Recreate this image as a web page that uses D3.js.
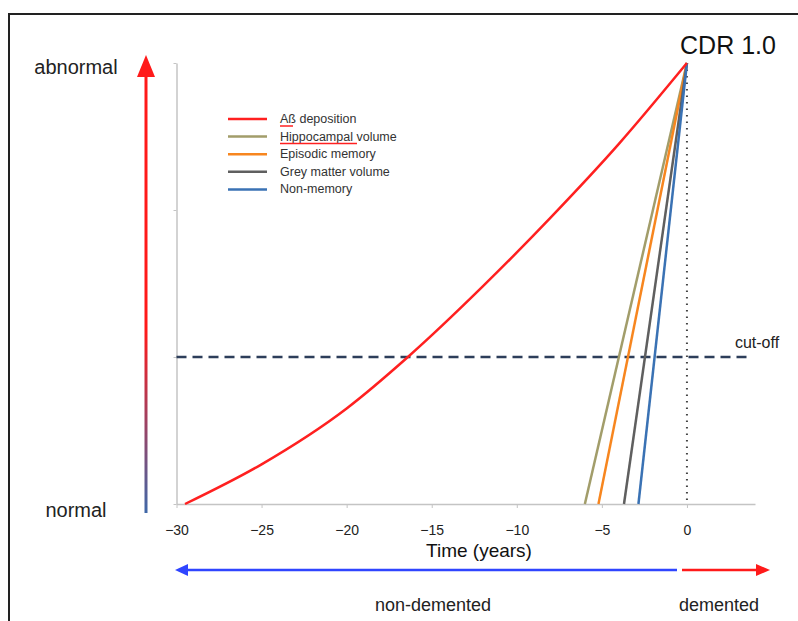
<!DOCTYPE html>
<html>
<head>
<meta charset="utf-8">
<script src="https://cdn.jsdelivr.net/npm/d3@7"></script>
<style>
  body { margin: 0; background: #fff; }
  text { font-family: "Liberation Sans", Arial, Helvetica, sans-serif; }
</style>
</head>
<body>
<div id="chart"></div>
<script>
// data
var xTicks = [-30, -25, -20, -15, -10, -5, 0];
var yTicks = [0, 1, 2, 3];
var abYears = [-29.5, -25, -20, -16.4, -12, -8, -4, 0];
var abValues = [0, 0.27, 0.65, 1.0, 1.48, 1.95, 2.45, 3.0];
var seriesNames = ["Aß deposition", "Hippocampal volume", "Episodic memory", "Grey matter volume", "Non-memory"];
var seriesColors = ["#ff2020", "#a29d6a", "#f7861f", "#5f5f5f", "#3a72b4"];
// straight markers: onset year (value 0) up to CDR 1.0 at year 0
var onsetYears = [-6.0, -5.2, -3.7, -2.85];
var cdrYear = 0, cdrValue = 3;
var cutoffValue = 1;

var width = 798, height = 621;

var svg = d3
  .select("#chart")
  .append("svg")
  .attr("width", width)
  .attr("height", height);

// outer frame
svg
  .append("rect")
  .attr("x", 9)
  .attr("y", 14)
  .attr("width", 820)
  .attr("height", 640)
  .attr("fill", "none")
  .attr("stroke", "#222")
  .attr("stroke-width", 2);

var x = d3.scaleLinear().domain([-30, 4]).range([176.5, 755]);
var y = d3.scaleLinear().domain([0, 3]).range([504, 63]);

// X axis
svg
  .append("g")
  .attr("transform", "translate(0," + y(0) + ")")
  .call(
    d3.axisBottom(x).tickValues(xTicks).tickSize(4).tickPadding(17).tickSizeOuter(0)
  )
  .call(function (g) {
    g.select(".domain").attr("stroke", "#c4c4c4").attr("stroke-width", 1.5);
    g.selectAll(".tick line").attr("stroke", "#c4c4c4");
    g.selectAll("text").attr("fill", "#222").style("font-size", "14px");
  });

// Y axis (no labels)
svg
  .append("g")
  .attr("transform", "translate(" + x(-30) + ",0)")
  .call(d3.axisLeft(y).tickValues(yTicks).tickSize(3).tickFormat("").tickSizeOuter(0))
  .call(function (g) {
    g.select(".domain").attr("stroke", "#c4c4c4").attr("stroke-width", 1.5);
    g.selectAll(".tick line").attr("stroke", "#c4c4c4");
  });

// dotted line at CDR 1.0
svg
  .append("line")
  .attr("x1", x(cdrYear))
  .attr("x2", x(cdrYear))
  .attr("y1", y(cdrValue))
  .attr("y2", y(0))
  .attr("stroke", "#444")
  .attr("stroke-width", 2)
  .attr("stroke-dasharray", "1.5,5");

// cut-off dashed line
svg
  .append("line")
  .attr("x1", x(-30))
  .attr("x2", 752)
  .attr("y1", y(cutoffValue))
  .attr("y2", y(cutoffValue))
  .attr("stroke", "#2d3e5a")
  .attr("stroke-width", 2.5)
  .attr("stroke-dasharray", "10,6");

svg
  .append("text")
  .attr("x", 757)
  .attr("y", 348)
  .attr("text-anchor", "middle")
  .attr("fill", "#222")
  .style("font-size", "16px")
  .text("cut-off");

// straight biomarker lines
var line = d3
  .line()
  .x(function (d) { return x(d[0]); })
  .y(function (d) { return y(d[1]); });

svg
  .append("g")
  .selectAll("path")
  .data(onsetYears)
  .enter()
  .append("path")
  .attr("fill", "none")
  .attr("stroke", function (d, i) { return seriesColors[i + 1]; })
  .attr("stroke-width", 2.5)
  .attr("d", function (d) { return line([[d, 0], [cdrYear, cdrValue]]); });

// amyloid curve
var abData = abYears.map(function (d, i) { return [d, abValues[i]]; });
svg
  .append("path")
  .datum(abData)
  .attr("fill", "none")
  .attr("stroke", seriesColors[0])
  .attr("stroke-width", 2.5)
  .attr("d", line.curve(d3.curveMonotoneX));

// CDR label
svg
  .append("text")
  .attr("x", 728)
  .attr("y", 54)
  .attr("text-anchor", "middle")
  .attr("fill", "#111")
  .style("font-size", "25px")
  .text("CDR 1.0");

// legend
var legend = svg
  .append("g")
  .selectAll("g")
  .data(seriesNames)
  .enter()
  .append("g")
  .attr("transform", function (d, i) {
    return "translate(228," + (119 + i * 17.6) + ")";
  });
legend
  .append("line")
  .attr("x1", 0)
  .attr("x2", 39)
  .attr("stroke", function (d, i) { return seriesColors[i]; })
  .attr("stroke-width", 2.5);
legend
  .append("text")
  .attr("x", 52)
  .attr("y", 4)
  .attr("fill", "#333")
  .style("font-size", "12.5px")
  .text(function (d) { return d; });

// red spell-check underlines under "Aß" and "Hippocampal"
svg
  .append("line")
  .attr("x1", 280).attr("x2", 293)
  .attr("y1", 126).attr("y2", 126)
  .attr("stroke", "#ff2020").attr("stroke-width", 1.5);
svg
  .append("line")
  .attr("x1", 280).attr("x2", 357)
  .attr("y1", 143.5).attr("y2", 143.5)
  .attr("stroke", "#ff2020").attr("stroke-width", 1.5);

// vertical normal -> abnormal arrow with gradient
var defs = svg.append("defs");
var grad = defs
  .append("linearGradient")
  .attr("id", "vgrad")
  .attr("gradientUnits", "userSpaceOnUse")
  .attr("x1", 0).attr("x2", 0)
  .attr("y1", 513).attr("y2", 55);
grad.append("stop").attr("offset", "0%").attr("stop-color", "#3f68a8");
grad.append("stop").attr("offset", "40%").attr("stop-color", "#ff1a1a");
grad.append("stop").attr("offset", "100%").attr("stop-color", "#ff1a1a");

svg
  .append("line")
  .attr("x1", 146).attr("x2", 146)
  .attr("y1", 513).attr("y2", 72)
  .attr("stroke", "url(#vgrad)")
  .attr("stroke-width", 3);
svg
  .append("path")
  .attr("d", "M146,55 L137,77 L155,77 Z")
  .attr("fill", "#ff1a1a");

svg
  .append("text")
  .attr("x", 76)
  .attr("y", 74)
  .attr("text-anchor", "middle")
  .attr("fill", "#222")
  .style("font-size", "20px")
  .text("abnormal");
svg
  .append("text")
  .attr("x", 76)
  .attr("y", 517)
  .attr("text-anchor", "middle")
  .attr("fill", "#222")
  .style("font-size", "20px")
  .text("normal");

// axis title
svg
  .append("text")
  .attr("x", 479)
  .attr("y", 557)
  .attr("text-anchor", "middle")
  .attr("fill", "#111")
  .style("font-size", "19px")
  .text("Time (years)");

// horizontal arrows
svg
  .append("line")
  .attr("x1", 677).attr("x2", 186)
  .attr("y1", 570).attr("y2", 570)
  .attr("stroke", "#2f45ff")
  .attr("stroke-width", 2.5);
svg
  .append("path")
  .attr("d", "M175,570 L188,564 L188,576 Z")
  .attr("fill", "#2f45ff");
svg
  .append("line")
  .attr("x1", 682).attr("x2", 758)
  .attr("y1", 570).attr("y2", 570)
  .attr("stroke", "#ff1a1a")
  .attr("stroke-width", 2.5);
svg
  .append("path")
  .attr("d", "M770,570 L756,564 L756,576 Z")
  .attr("fill", "#ff1a1a");

svg
  .append("text")
  .attr("x", 433)
  .attr("y", 611)
  .attr("text-anchor", "middle")
  .attr("fill", "#222")
  .style("font-size", "18px")
  .text("non-demented");
svg
  .append("text")
  .attr("x", 719)
  .attr("y", 611)
  .attr("text-anchor", "middle")
  .attr("fill", "#222")
  .style("font-size", "18px")
  .text("demented");
</script>
</body>
</html>
